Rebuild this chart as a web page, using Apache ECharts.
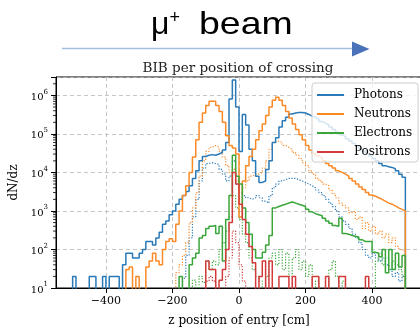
<!DOCTYPE html>
<html>
<head>
<meta charset="utf-8">
<script src="https://cdn.jsdelivr.net/npm/echarts@6/dist/echarts.min.js"></script>
<style>
  html, body { margin: 0; padding: 0; background: #ffffff; }
  #chart { width: 420px; height: 329px; }
</style>
</head>
<body>
<div id="chart"></div>
<script>
// Histogram binning along z (cm): 100 bins of 10 cm from -500 to 500
const BIN_START = -500;
const BIN_WIDTH = 10;

// dN/dz per bin, solid curves
const photons = [
  20, 0, 0, 0, 0, 20, 20, 0, 0, 20,
  0, 20, 20, 20, 0, 40, 80, 80, 60, 60,
  80, 100, 160, 160, 130, 200, 280, 450, 550, 800,
  1000, 1500, 2000, 2500, 3200, 4500, 7000, 11000, 20000, 26000,
  28000, 29000, 28000, 30000, 33000, 38000, 60000, 800000, 2500000, 500000,
  35000, 320000, 170000, 40000, 20000, 8000, 5500, 6000, 12000, 20000,
  60000, 80000, 150000, 220000, 270000, 330000, 350000, 360000, 360000, 350000,
  320000, 290000, 270000, 240000, 210000, 190000, 170000, 150000, 130000, 110000,
  95000, 85000, 75000, 65000, 56000, 48000, 42000, 36000, 31000, 27000,
  23000, 20000, 17000, 15000, 14000, 13500, 12500, 11000, 9000, 7500
];
const neutrons = [
  0, 0, 0, 0, 0, 0, 0, 0, 0, 0,
  0, 0, 0, 0, 0, 0, 30, 35, 0, 20,
  0, 0, 35, 50, 80, 50, 40, 100, 160, 190,
  160, 450, 1000, 2500, 4500, 10000, 25000, 70000, 200000, 350000,
  550000, 700000, 700000, 550000, 380000, 200000, 90000, 50000, 43000, 30000,
  700, 6000, 15000, 26000, 40000, 70000, 120000, 180000, 300000, 500000,
  750000, 900000, 750000, 550000, 380000, 260000, 180000, 130000, 95000, 70000,
  50000, 38000, 31000, 27000, 24000, 20000, 17000, 15000, 13000, 11000,
  10000, 9000, 8000, 7000, 6000, 5000, 4200, 3600, 3000, 2600,
  2400, 2200, 2000, 1800, 1600, 1500, 1350, 1200, 1100, 1000
];
const electrons = [
  0, 0, 0, 0, 0, 0, 0, 0, 0, 0,
  0, 0, 0, 0, 0, 0, 0, 0, 0, 0,
  0, 0, 0, 0, 0, 0, 0, 0, 0, 0,
  0, 0, 20, 0, 0, 40, 60, 80, 200, 230,
  350, 400, 420, 260, 400, 50, 600, 2500, 28000, 8000,
  5000, 1200, 500, 250, 100, 60, 60, 85, 130, 230,
  1200, 1300, 1400, 1500, 1600, 1700, 1600, 1500, 1400, 1300,
  1100, 950, 850, 800, 750, 650, 550, 480, 420, 400,
  650, 260, 250, 230, 220, 210, 180, 160, 160, 160,
  85, 80, 65, 100, 25, 100, 30, 80, 35, 70
];
const positrons = [
  0, 0, 0, 0, 0, 0, 0, 0, 0, 0,
  0, 0, 0, 0, 0, 0, 0, 0, 0, 0,
  0, 0, 0, 0, 0, 0, 0, 0, 0, 0,
  0, 0, 0, 0, 0, 0, 0, 0, 0, 0,
  50, 30, 30, 0, 16, 30, 100, 500, 10000, 5000,
  1500, 600, 250, 120, 45, 0, 20, 50, 0, 50,
  0, 0, 20, 20, 20, 0, 20, 0, 0, 0,
  0, 0, 20, 20, 0, 0, 20, 0, 0, 0,
  20, 20, 0, 0, 0, 0, 0, 0, 20, 0,
  0, 0, 0, 0, 0, 0, 0, 0, 0, 0
];

// dN/dz per bin, dotted curves
const photonsDotted = [
  0, 0, 0, 0, 0, 0, 0, 0, 0, 0,
  0, 0, 0, 0, 0, 0, 0, 0, 0, 0,
  0, 0, 0, 0, 0, 0, 0, 0, 0, 0,
  0, 0, 0, 18, 70, 200, 700, 2000, 6000, 13000,
  17000, 18000, 17000, 16000, 12000, 9000, 6000, 8000, 20000, 5000,
  3000, 2500, 2200, 2000, 2200, 2500, 2200, 1800, 1600, 2500,
  4000, 5000, 6000, 6500, 7000, 7000, 7000, 6500, 6000, 5500,
  5000, 4500, 4000, 3500, 3000, 2500, 2000, 1600, 1300, 1000,
  700, 550, 450, 350, 250, 200, 150, 100, 70, 60,
  80, 60, 50, 60, 40, 30, 20, 25, 15, 20
];
const neutronsDotted = [
  0, 0, 0, 0, 0, 0, 0, 0, 0, 0,
  0, 0, 0, 0, 0, 0, 0, 0, 0, 0,
  0, 0, 0, 0, 0, 0, 0, 0, 0, 0,
  0, 25, 40, 70, 150, 500, 1200, 3000, 8000, 20000,
  35000, 45000, 50000, 45000, 35000, 25000, 15000, 10000, 12000, 6000,
  3000, 4000, 6000, 8000, 9000, 9000, 10000, 13000, 20000, 40000,
  60000, 65000, 60000, 50000, 45000, 40000, 33000, 28000, 23000, 18000,
  15000, 11000, 9000, 7000, 6000, 5000, 4500, 3500, 2800, 2200,
  1600, 1400, 1200, 900, 1000, 600, 700, 350, 500, 300,
  400, 250, 300, 200, 250, 150, 200, 120, 100, 90
];
const electronsDotted = [
  0, 0, 0, 0, 0, 0, 0, 0, 0, 0,
  0, 0, 0, 0, 0, 0, 0, 0, 0, 0,
  0, 0, 0, 0, 0, 0, 0, 0, 0, 0,
  0, 0, 0, 0, 0, 0, 16, 0, 20, 14,
  50, 30, 50, 40, 100, 150, 300, 700, 2500, 1200,
  600, 250, 150, 60, 30, 20, 15, 0, 20, 60,
  80, 40, 100, 30, 80, 20, 60, 100, 30, 50,
  20, 40, 0, 15, 0, 0, 0, 30, 50, 20,
  0, 15, 0, 0, 0, 0, 0, 0, 0, 0,
  0, 50, 80, 40, 60, 30, 50, 40, 30, 20
];
const positronsDotted = [
  0, 0, 0, 0, 0, 0, 0, 0, 0, 0,
  0, 0, 0, 0, 0, 0, 0, 0, 0, 0,
  0, 0, 0, 0, 0, 0, 0, 0, 0, 0,
  0, 0, 0, 0, 0, 0, 0, 0, 0, 0,
  15, 20, 15, 0, 0, 0, 20, 60, 300, 150,
  40, 15, 0, 0, 0, 0, 0, 0, 0, 0,
  0, 0, 0, 0, 0, 0, 0, 0, 0, 0,
  0, 0, 0, 0, 0, 0, 0, 0, 0, 0,
  0, 0, 0, 0, 0, 0, 0, 0, 0, 0,
  0, 0, 0, 0, 0, 0, 0, 0, 0, 0
];

// Axis ticks
const xTicks = [-400, -200, 0, 200, 400];
const yMinorTicks = [
  20, 30, 40, 50, 60, 70, 80, 90,
  200, 300, 400, 500, 600, 700, 800, 900,
  2000, 3000, 4000, 5000, 6000, 7000, 8000, 9000,
  20000, 30000, 40000, 50000, 60000, 70000, 80000, 90000,
  200000, 300000, 400000, 500000, 600000, 700000, 800000, 900000,
  2000000
];
const X_MIN = -550, X_MAX = 550;
const Y_MIN = 10, Y_MAX = 3e6;

const COLORS = { photons: '#2a7ab8', neutrons: '#fb8a26', electrons: '#3aa63a', positrons: '#d33a3a' };
const SERIF = 'DejaVu Serif';
// empty bins fall below the axis floor so the step drops out of view
const EMPTY = 1;

function stepPoints(counts) {
  const pts = [[BIN_START, EMPTY]];
  counts.forEach((c, i) => pts.push([BIN_START + i * BIN_WIDTH, c > 0 ? c : EMPTY]));
  pts.push([BIN_START + counts.length * BIN_WIDTH, EMPTY]);
  return pts;
}

function hist(name, counts, color, dotted, z) {
  return {
    type: 'line',
    name: name,
    data: stepPoints(counts),
    step: 'end',
    symbol: 'none',
    showSymbol: false,
    clip: true,
    silent: true,
    z: z,
    itemStyle: { color: color },
    lineStyle: dotted
      ? { color: color, width: 1.2, type: [1.2, 1.6] }
      : { color: color, width: 1.5, type: 'solid' }
  };
}

const chart = echarts.init(document.getElementById('chart'), null, { renderer: 'canvas' });

chart.setOption({
  animation: false,
  backgroundColor: '#ffffff',
  grid: {
    left: 56, top: 77, width: 366, height: 211,
    containLabel: false, outerBoundsMode: 'none',
    show: true, borderColor: '#000000', borderWidth: 1, backgroundColor: 'transparent'
  },
  xAxis: {
    type: 'value', min: X_MIN, max: X_MAX,
    axisLine: { show: true, onZero: false, lineStyle: { color: '#000', width: 1 } },
    axisTick: { show: true, length: 5, customValues: xTicks, lineStyle: { color: '#000', width: 1 } },
    axisLabel: {
      customValues: xTicks, margin: 8, color: '#000', fontFamily: SERIF, fontSize: 11,
      formatter: v => String(v).replace('-', '\u2212')
    },
    splitLine: { show: true, lineStyle: { color: '#b8b8b8', width: 0.8, type: [4, 3] } },
    name: 'z position of entry [cm]', nameLocation: 'middle', nameGap: 27,
    nameTextStyle: { fontFamily: SERIF, fontSize: 12, color: '#000' }
  },
  yAxis: {
    type: 'log', logBase: 10, min: Y_MIN, max: Y_MAX,
    axisLine: { show: true, onZero: false, lineStyle: { color: '#000', width: 1 } },
    axisTick: { show: true, length: 5, lineStyle: { color: '#000', width: 1 } },
    axisLabel: {
      margin: 8, color: '#000',
      formatter: v => {
        const e = Math.round(Math.log10(v));
        return Math.abs(Math.log10(v) - e) < 1e-6 ? '{b|10}{s|' + e + '}' : '';
      },
      rich: {
        b: { fontFamily: SERIF, fontSize: 10, color: '#000', lineHeight: 14, verticalAlign: 'bottom' },
        s: { fontFamily: SERIF, fontSize: 7, color: '#000', lineHeight: 8, verticalAlign: 'top' }
      }
    },
    splitLine: { show: true, lineStyle: { color: '#b8b8b8', width: 0.8, type: [4, 3] } },
    name: 'dN/dz', nameLocation: 'middle', nameGap: 27,
    nameTextStyle: { fontFamily: SERIF, fontSize: 12, color: '#000' }
  },
  legend: {
    data: ['Photons', 'Neutrons', 'Electrons', 'Positrons'],
    orient: 'vertical', left: 312, top: 83,
    icon: 'rect', itemWidth: 27, itemHeight: 2, itemGap: 5,
    padding: [5, 6, 3, 5],
    backgroundColor: 'rgba(255,255,255,0.8)',
    borderColor: '#cccccc', borderWidth: 1, borderRadius: 3,
    selectedMode: false,
    textStyle: { fontFamily: SERIF, fontSize: 12, color: '#000', lineHeight: 14, padding: [0, 0, 0, 5] }
  },
  graphic: [
    {
      type: 'text', x: 151, y: 25.5, silent: true,
      style: {
        text: '\u03bc{s|+}', fontFamily: 'Liberation Sans', fontSize: 32, fill: '#000',
        align: 'left', verticalAlign: 'middle',
        rich: { s: { fontFamily: 'Liberation Sans', fontSize: 18, lineHeight: 18, verticalAlign: 'top', fill: '#000' } }
      }
    },
    {
      type: 'text', x: 199, y: 25.5, scaleX: 1.17, silent: true,
      style: {
        text: 'beam', fontFamily: 'Liberation Sans', fontSize: 32, fill: '#000',
        align: 'left', verticalAlign: 'middle'
      }
    },
    { type: 'line', silent: true, shape: { x1: 62, y1: 48.5, x2: 353, y2: 48.5 }, style: { stroke: '#a7bfdf', lineWidth: 1.5 } },
    { type: 'polygon', silent: true, shape: { points: [[352, 41.5], [369.5, 49], [352, 56.5]] }, style: { fill: '#4a72b8' } },
    {
      type: 'text', x: 238, y: 68.5, silent: true,
      style: { text: 'BIB per position of crossing', fontFamily: SERIF, fontSize: 13.5, fill: '#222', align: 'center', verticalAlign: 'middle' }
    }
  ],
  series: [
    hist('Photons dotted', photonsDotted, COLORS.photons, true, 2),
    hist('Neutrons dotted', neutronsDotted, COLORS.neutrons, true, 2),
    hist('Electrons dotted', electronsDotted, COLORS.electrons, true, 2),
    hist('Positrons dotted', positronsDotted, COLORS.positrons, true, 2),
    hist('Photons', photons, COLORS.photons, false, 3),
    hist('Neutrons', neutrons, COLORS.neutrons, false, 3),
    hist('Electrons', electrons, COLORS.electrons, false, 3),
    hist('Positrons', positrons, COLORS.positrons, false, 3),
    {
      type: 'custom', name: 'minor ticks', coordinateSystem: 'cartesian2d', silent: true, clip: false, z: 5,
      data: yMinorTicks.map(v => [X_MIN, v]),
      renderItem: (params, api) => {
        const p = api.coord([api.value(0), api.value(1)]);
        return {
          type: 'line',
          shape: { x1: p[0] - 3, y1: p[1], x2: p[0], y2: p[1] },
          style: { stroke: '#000', lineWidth: 0.8 }
        };
      }
    }
  ]
});
</script>
</body>
</html>
